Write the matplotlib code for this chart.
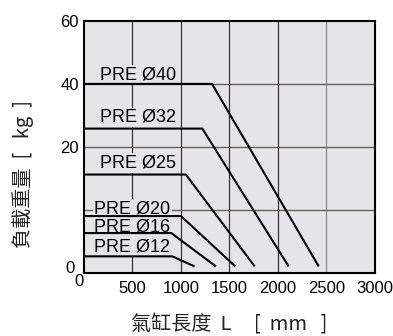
import numpy as np
import matplotlib.pyplot as plt

# load limit per bore size
models = ['PRE Ø12', 'PRE Ø16', 'PRE Ø20', 'PRE Ø25', 'PRE Ø32', 'PRE Ø40']
load_max = [2.6, 6.3, 9.0, 15.6, 25.8, 40]       # kg, flat part
bend_len = [910, 900, 1000, 1050, 1220, 1320]     # mm, where the load starts to drop
end_len = [1140, 1360, 1560, 1760, 2110, 2420]    # mm, end of the sloped part
end_load = [1.0, 1.0, 1.0, 1.0, 1.0, 1.0]

label_x = [105, 105, 105, 165, 165, 165]
label_y = [3.3, 6.5, 9.4, 16.7, 27.9, 41.4]

x_ticks = [500, 1000, 1500, 2000, 2500, 3000]
y_ticks = [20, 40, 60]
x_grid = [500, 1000, 1500, 2000, 2500]
y_grid = [10, 20, 40]

# the y axis of the original is stretched: 0, 10, 20, 40, 60 sit equally spaced
y_breaks = [0, 10, 20, 40, 60]
y_steps = [0, 1, 2, 3, 4]

def fwd(y):
    return np.interp(y, y_breaks, y_steps)

def inv(p):
    return np.interp(p, y_steps, y_breaks)

num_font = 'Liberation Sans'
cjk_font = ['Noto Sans CJK TC', 'DejaVu Sans']
bg = '#e5e5e7'

fig = plt.figure(figsize=(3.93, 3.36), dpi=100)
ax = fig.add_axes([0.2137, 0.1884, 0.7405, 0.7491])
ax.set_facecolor(bg)
ax.set_yscale('function', functions=(fwd, inv))
ax.set_xlim(0, 3000)
ax.set_ylim(0, 60)

for xv in x_grid:
    c = '#8a8a8a' if xv == 2500 else '#3b3431'
    ax.axvline(xv, color=c, lw=0.9, zorder=1)
for yv in y_grid:
    ax.axhline(yv, color='#66615e', lw=1.0, zorder=1)

for i in range(len(models)):
    xs = [0, bend_len[i], end_len[i]]
    ys = [load_max[i], load_max[i], end_load[i]]
    ax.plot(xs, ys, color='black', lw=1.5, zorder=4, solid_capstyle='butt')
    ax.text(label_x[i], label_y[i], models[i], family=num_font, fontsize=13,
            ha='left', va='baseline', zorder=3,
            bbox=dict(facecolor=bg, edgecolor='none', pad=1.0))

ax.set_xticks(x_ticks)
ax.set_xticklabels([str(v) for v in x_ticks], family=num_font, fontsize=12)
ax.set_yticks(y_ticks)
ax.set_yticklabels([str(v) for v in y_ticks], family=num_font, fontsize=12)
ax.yaxis.set_minor_locator(plt.NullLocator())
ax.tick_params(length=0)
ax.tick_params(axis='x', pad=6)
ax.tick_params(axis='y', pad=3.5)

# the two zeros sit apart at the corner
ax.text(-0.031, 0.015, '0', transform=ax.transAxes, family=num_font, fontsize=12,
        ha='right', va='center')
ax.text(-0.017, -0.036, '0', transform=ax.transAxes, family=num_font, fontsize=12,
        ha='center', va='center')

for s in ax.spines.values():
    s.set_linewidth(1.5)
    s.set_color('black')

fig.text(0.0585, 0.262, '負載重量  [   kg  ]', family=cjk_font, fontsize=14.5,
         rotation=90, ha='center', va='bottom', color='#222222')
fig.text(0.334, 0.033, '氣缸長度  L     [  mm   ]', family=cjk_font, fontsize=14.5,
         ha='left', va='center', color='#222222')

fig.savefig('out.png', dpi=100)
